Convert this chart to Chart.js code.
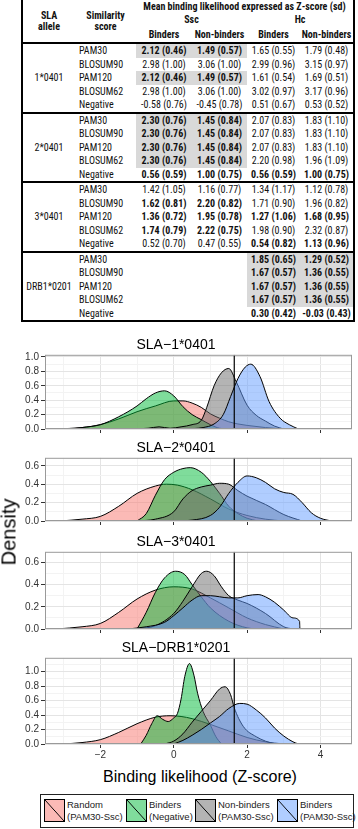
<!DOCTYPE html>
<html lang="en">
<head>
<meta charset="UTF-8">
<title>SLA binding likelihood</title>
<script src="https://cdn.jsdelivr.net/npm/chart.js"></script>
<style>
  body { margin: 0; width: 358px; height: 829px; position: relative; overflow: hidden; background: #fff;
         font-family: "Liberation Sans", Arial, sans-serif; }
  #tbl { position: absolute; left: 21px; top: 0; width: 334px; border-collapse: collapse; table-layout: fixed;
         font-family: "Liberation Sans Narrow", "Roboto Condensed", Roboto, sans-serif; font-size: 10px; color: #111;
         border-left: 2px solid #000; border-right: 2px solid #000; border-bottom: 2px solid #000; }
  #tbl th, #tbl td { padding: 0; white-space: nowrap; line-height: 11px; }
  #tbl thead th { font-weight: bold; text-align: center; vertical-align: middle; height: 13px; }
  #tbl thead tr:last-child th { height: 16px; border-bottom: 2px solid #000; }
  #tbl td { height: 13.5px; text-align: center; }
  #tbl td.score { text-align: left; padding-left: 4px; }
  #tbl tr.first td { border-top: 2px solid #000; }
  #tbl td.b { font-weight: bold; }
  #tbl td.s { font-weight: bold; background: #d9d9d9; }
  canvas { position: absolute; left: 0; }
  .ylab { position: absolute; left: 9px; top: 532px; transform: translate(-50%, -50%) rotate(-90deg);
          font-size: 20px; color: #000; white-space: nowrap; }
  .xlab { position: absolute; left: 200px; top: 777px; transform: translate(-50%, -50%);
          font-size: 16px; color: #000; white-space: nowrap; }
  #legend { position: absolute; left: 40px; top: 794px; width: 312px; height: 32px; border: 1px solid #222; }
  .key { position: absolute; top: 4px; width: 19px; height: 21px; border: 1px solid #000; }
  .ktxt { position: absolute; top: 4px; font-size: 9.5px; line-height: 12px; color: #222; white-space: nowrap; }
</style>
</head>
<body>
<table id="tbl">
  <colgroup><col style="width:53px"><col style="width:61px"><col style="width:56px"><col style="width:55px"><col style="width:53px"><col style="width:54px"></colgroup>
  <thead>
    <tr><th rowspan="3">SLA<br>allele</th><th rowspan="3">Similarity<br>score</th><th colspan="4">Mean binding likelihood expressed as Z-score (sd)</th></tr>
    <tr><th colspan="2">Ssc</th><th colspan="2">Hc</th></tr>
    <tr><th>Binders</th><th>Non-binders</th><th>Binders</th><th>Non-binders</th></tr>
  </thead>
  <tbody id="tb"></tbody>
</table>

<canvas id="p1" width="358" height="98" style="top:337px"></canvas>
<canvas id="p2" width="358" height="87" style="top:440px"></canvas>
<canvas id="p3" width="358" height="101" style="top:534px"></canvas>
<canvas id="p4" width="358" height="124" style="top:640px"></canvas>

<div class="ylab">Density</div>
<div class="xlab">Binding likelihood (Z-score)</div>
<div id="legend"></div>

<script>
// ---- table content ----
const alleles = ['1*0401', '2*0401', '3*0401', 'DRB1*0201'];
const scores = ['PAM30', 'BLOSUM90', 'PAM120', 'BLOSUM62', 'Negative'];
// columns: Ssc binders, Ssc non-binders, Hc binders, Hc non-binders
const rows1 = [
  ['2.12 (0.46)', '1.49 (0.57)', '1.65 (0.55)', '1.79 (0.48)'],
  ['2.98 (1.00)', '3.06 (1.00)', '2.99 (0.96)', '3.15 (0.97)'],
  ['2.12 (0.46)', '1.49 (0.57)', '1.61 (0.54)', '1.69 (0.51)'],
  ['2.98 (1.00)', '3.06 (1.00)', '3.02 (0.97)', '3.17 (0.96)'],
  ['-0.58 (0.76)', '-0.45 (0.78)', '0.51 (0.67)', '0.53 (0.52)']
];
const rows2 = [
  ['2.30 (0.76)', '1.45 (0.84)', '2.07 (0.83)', '1.83 (1.10)'],
  ['2.30 (0.76)', '1.45 (0.84)', '2.07 (0.83)', '1.83 (1.10)'],
  ['2.30 (0.76)', '1.45 (0.84)', '2.07 (0.83)', '1.83 (1.10)'],
  ['2.30 (0.76)', '1.45 (0.84)', '2.20 (0.98)', '1.96 (1.09)'],
  ['0.56 (0.59)', '1.00 (0.75)', '0.56 (0.59)', '1.00 (0.75)']
];
const rows3 = [
  ['1.42 (1.05)', '1.16 (0.77)', '1.34 (1.17)', '1.12 (0.78)'],
  ['1.62 (0.81)', '2.20 (0.82)', '1.71 (0.90)', '1.96 (0.82)'],
  ['1.36 (0.72)', '1.95 (0.78)', '1.27 (1.06)', '1.68 (0.95)'],
  ['1.74 (0.79)', '2.22 (0.75)', '1.98 (0.90)', '2.32 (0.87)'],
  ['0.52 (0.70)', '0.47 (0.55)', '0.54 (0.82)', '1.13 (0.96)']
];
const rows4 = [
  ['', '', '1.85 (0.65)', '1.29 (0.52)'],
  ['', '', '1.67 (0.57)', '1.36 (0.55)'],
  ['', '', '1.67 (0.57)', '1.36 (0.55)'],
  ['', '', '1.67 (0.57)', '1.36 (0.55)'],
  ['', '', '0.30 (0.42)', '-0.03 (0.43)']
];
// s = shaded and bold, b = bold, . = plain
const marks1 = ['ss..', '....', 'ss..', '....', '....'];
const marks2 = ['ss..', 'ss..', 'ss..', 'ss..', 'bbbb'];
const marks3 = ['....', 'bb..', 'bbbb', 'bb..', '..bb'];
const marks4 = ['..ss', '..ss', '..ss', '..ss', '..bb'];

// ---- density curves: [z-score, density] ----
const sla1Random = [[-3.2,0],[-2.5,0.02],[-2,0.06],[-1.5,0.14],[-1,0.24],[-0.5,0.32],[0,0.39],[0.25,0.39],[0.5,0.36],[0.75,0.3],[1,0.21],[1.25,0.15],[1.5,0.1],[1.75,0.07],[2,0.05],[2.5,0.02],[3,0]];
const sla1Negative = [[-2.8,0],[-2.5,0.02],[-2,0.06],[-1.5,0.17],[-1,0.32],[-0.75,0.42],[-0.5,0.5],[-0.25,0.53],[0,0.46],[0.25,0.31],[0.5,0.2],[0.75,0.13],[1,0.06],[1.25,0.01],[1.5,0]];
const sla1NonBinders = [[-1.2,0],[-0.7,0.01],[-0.4,0.03],[-0.1,0.01],[0.2,0.03],[0.5,0.06],[0.75,0.12],[0.9,0.3],[1.1,0.6],[1.3,0.78],[1.5,0.84],[1.7,0.66],[2,0.33],[2.25,0.19],[2.5,0.11],[2.75,0.04],[3,0]];
const sla1Binders = [[0.3,0],[0.8,0.02],[1.1,0.07],[1.35,0.2],[1.55,0.45],[1.75,0.7],[1.95,0.86],[2.1,0.9],[2.35,0.73],[2.6,0.38],[2.9,0.15],[3.15,0.06],[3.4,0]];

const sla2Random = [[-3.1,0],[-2.5,0.02],[-2,0.05],[-1.5,0.16],[-1,0.3],[-0.5,0.38],[-0.2,0.4],[0.1,0.39],[0.5,0.34],[1,0.24],[1.5,0.13],[2,0.06],[2.5,0.02],[3,0]];
const sla2Negative = [[-1,0],[-0.75,0.08],[-0.5,0.28],[-0.25,0.45],[0,0.53],[0.25,0.57],[0.45,0.58],[0.75,0.53],[1,0.43],[1.25,0.3],[1.5,0.16],[1.75,0.08],[2,0.03],[2.3,0]];
const sla2NonBinders = [[-1,0],[-0.5,0.02],[0,0.1],[0.25,0.24],[0.5,0.33],[0.75,0.37],[1,0.39],[1.25,0.41],[1.5,0.4],[1.75,0.33],[2,0.27],[2.5,0.18],[3,0.07],[3.5,0]];
const sla2Binders = [[0,0],[0.5,0.01],[1,0.06],[1.25,0.15],[1.5,0.3],[1.75,0.42],[2,0.49],[2.25,0.47],[2.5,0.42],[2.75,0.35],[3,0.31],[3.25,0.29],[3.5,0.2],[3.75,0.09],[4,0.03],[4.3,0]];

const sla3Random = [[-3.2,0],[-2.5,0.02],[-2,0.05],[-1.5,0.15],[-1,0.27],[-0.5,0.35],[0,0.38],[0.5,0.36],[1,0.28],[1.5,0.19],[2,0.1],[2.5,0.04],[3,0]];
const sla3Negative = [[-1,0],[-0.75,0.15],[-0.5,0.33],[-0.25,0.46],[0.05,0.52],[0.3,0.49],[0.5,0.4],[0.75,0.29],[1,0.19],[1.5,0.07],[2,0.01],[2.25,0]];
const sla3NonBinders = [[-1,0],[-0.5,0.03],[0,0.14],[0.25,0.25],[0.5,0.38],[0.75,0.5],[0.9,0.52],[1.1,0.48],[1.3,0.38],[1.5,0.3],[1.75,0.26],[2,0.23],[2.5,0.14],[3,0.02],[3.25,0]];
const sla3Binders = [[-1.25,0],[-0.75,0.02],[-0.25,0.06],[0,0.12],[0.25,0.19],[0.5,0.26],[0.75,0.3],[1,0.3],[1.25,0.29],[1.5,0.28],[1.75,0.28],[2,0.3],[2.3,0.31],[2.5,0.29],[2.75,0.24],[3,0.17],[3.25,0.1],[3.43,0.07],[3.44,0]];

const drbRandom = [[-3,0],[-2.5,0.02],[-2,0.06],[-1.5,0.16],[-1,0.28],[-0.5,0.37],[-0.1,0.39],[0.2,0.38],[0.5,0.35],[1,0.27],[1.5,0.18],[2,0.09],[2.5,0.03],[3,0]];
const drbNegative = [[-0.9,0],[-0.75,0.12],[-0.6,0.28],[-0.45,0.39],[-0.3,0.34],[-0.15,0.31],[0,0.36],[0.1,0.42],[0.2,0.62],[0.3,0.93],[0.43,1.11],[0.55,0.95],[0.65,0.7],[0.8,0.45],[1,0.26],[1.15,0.1],[1.3,0]];
const drbNonBinders = [[-0.25,0],[0,0.04],[0.25,0.14],[0.5,0.3],[0.75,0.45],[1,0.6],[1.25,0.76],[1.4,0.79],[1.55,0.68],[1.65,0.5],[1.9,0.24],[2.25,0.1],[2.5,0.04],[2.75,0]];
const drbBinders = [[0,0],[0.25,0.05],[0.5,0.12],[0.75,0.2],[1,0.29],[1.25,0.38],[1.5,0.49],[1.8,0.56],[2,0.55],[2.25,0.47],[2.5,0.36],[2.75,0.22],[3,0.11],[3.25,0.03],[3.4,0]];

const cutoff = 1.65;
const groupNames = ['Random|(PAM30-Ssc)', 'Binders|(Negative)', 'Non-binders|(PAM30-Ssc)', 'Binders|(PAM30-Ssc)'];
const fills = ['rgba(248,118,109,0.5)', 'rgba(0,186,56,0.5)', 'rgba(105,105,105,0.5)', 'rgba(97,156,255,0.5)'];
const keyColours = ['#fbbab6', '#80dc9c', '#b4b4b4', '#b0cdff'];

// build table
const tb = document.getElementById('tb');
[rows1, rows2, rows3, rows4].forEach((rows, g) => {
  const marks = [marks1, marks2, marks3, marks4][g];
  rows.forEach((vals, r) => {
    const tr = document.createElement('tr');
    if (r === 0) {
      tr.className = 'first';
      const td = document.createElement('td');
      td.rowSpan = 5;
      td.textContent = alleles[g];
      tr.appendChild(td);
    }
    const sc = document.createElement('td');
    sc.className = 'score';
    sc.textContent = scores[r];
    tr.appendChild(sc);
    vals.forEach((v, c) => {
      const td = document.createElement('td');
      const m = marks[r][c];
      if (m !== '.') td.className = m;
      td.textContent = v;
      tr.appendChild(td);
    });
    tb.appendChild(tr);
  });
});

// legend
const legend = document.getElementById('legend');
const keyX = [3, 85, 154, 236];
groupNames.forEach((name, i) => {
  const k = document.createElement('div');
  k.className = 'key';
  k.style.left = keyX[i] + 'px';
  k.style.background = 'linear-gradient(to top right, ' + keyColours[i] + ' calc(50% - 0.7px), #000 50%, ' + keyColours[i] + ' calc(50% + 0.7px))';
  legend.appendChild(k);
  const t = document.createElement('div');
  t.className = 'ktxt';
  t.style.left = (keyX[i] + 23) + 'px';
  t.innerHTML = name.split('|').join('<br>');
  legend.appendChild(t);
});

// panels
Chart.defaults.font.family = '"Liberation Sans", Arial, sans-serif';

const panelBorder = {
  id: 'panelBorder',
  afterDraw(chart) {
    const a = chart.chartArea, ctx = chart.ctx;
    ctx.save();
    ctx.strokeStyle = '#9a9a9a';
    ctx.lineWidth = 1;
    ctx.strokeRect(a.left + 0.5, a.top + 0.5, a.right - a.left - 1, a.bottom - a.top - 1);
    ctx.restore();
  }
};

function drawPanel(id, title, series, yMax, showLabels) {
  const datasets = series.map((s, i) => ({
    label: groupNames[i].replace('|', ' '),
    data: s.map(p => ({ x: p[0], y: p[1] })),
    backgroundColor: fills[i],
    borderColor: '#000',
    borderWidth: 1,
    fill: 'origin',
    pointRadius: 0,
    cubicInterpolationMode: 'monotone',
    order: 4 - i
  }));
  datasets.push({
    label: 'cutoff',
    data: [{ x: cutoff, y: 0 }, { x: cutoff, y: yMax }],
    borderColor: '#000',
    borderWidth: 1.2,
    pointRadius: 0,
    fill: false,
    order: 0
  });

  new Chart(document.getElementById(id), {
    type: 'line',
    data: { datasets: datasets },
    options: {
      responsive: false,
      animation: false,
      layout: { padding: { left: 0, right: 6, top: 0, bottom: 0 } },
      plugins: {
        legend: { display: false },
        tooltip: { enabled: false },
        title: { display: true, text: title, color: '#000', font: { size: 14, weight: 'normal' }, padding: { top: 0, bottom: 1 } }
      },
      scales: {
        x: {
          type: 'linear', min: -3.51, max: 4.86,
          afterFit: s => { s.height = showLabels ? 20 : 6; s.paddingLeft = 0; s.paddingRight = 0; },
          ticks: {
            stepSize: 1, includeBounds: false, padding: 1, maxRotation: 0, autoSkip: false,
            color: '#333', font: { size: 10 },
            callback: v => (!showLabels || v % 2 !== 0) ? '' : (v < 0 ? '\u2212' + Math.abs(v) : String(v))
          },
          grid: {
            tickLength: 4,
            color: c => (c.tick && c.tick.value % 2 === 0) ? '#e4e4e4' : '#f3f3f3',
            tickColor: c => (c.tick && c.tick.value % 2 === 0) ? '#333' : 'rgba(0,0,0,0)'
          },
          border: { display: false }
        },
        y: {
          min: 0, max: yMax,
          afterFit: s => { s.width = 45; s.paddingTop = 0; s.paddingBottom = 0; },
          ticks: {
            stepSize: 0.1, includeBounds: false, padding: 2, color: '#333', font: { size: 10 }, autoSkip: false,
            callback: v => Math.round(v * 10) % 2 === 0 ? v.toFixed(1) : ''
          },
          grid: {
            tickLength: 4,
            color: c => (c.tick && Math.round(c.tick.value * 10) % 2 === 0) ? '#e4e4e4' : '#f3f3f3',
            tickColor: c => (c.tick && Math.round(c.tick.value * 10) % 2 === 0) ? '#333' : 'rgba(0,0,0,0)'
          },
          border: { display: false }
        }
      }
    },
    plugins: [panelBorder]
  });
}

drawPanel('p1', 'SLA\u22121*0401', [sla1Random, sla1Negative, sla1NonBinders, sla1Binders], 1.03, false);
drawPanel('p2', 'SLA\u22122*0401', [sla2Random, sla2Negative, sla2NonBinders, sla2Binders], 0.687, false);
drawPanel('p3', 'SLA\u22123*0401', [sla3Random, sla3Negative, sla3NonBinders, sla3Binders], 0.695, false);
drawPanel('p4', 'SLA\u2212DRB1*0201', [drbRandom, drbNegative, drbNonBinders, drbBinders], 1.19, true);
</script>
</body>
</html>
